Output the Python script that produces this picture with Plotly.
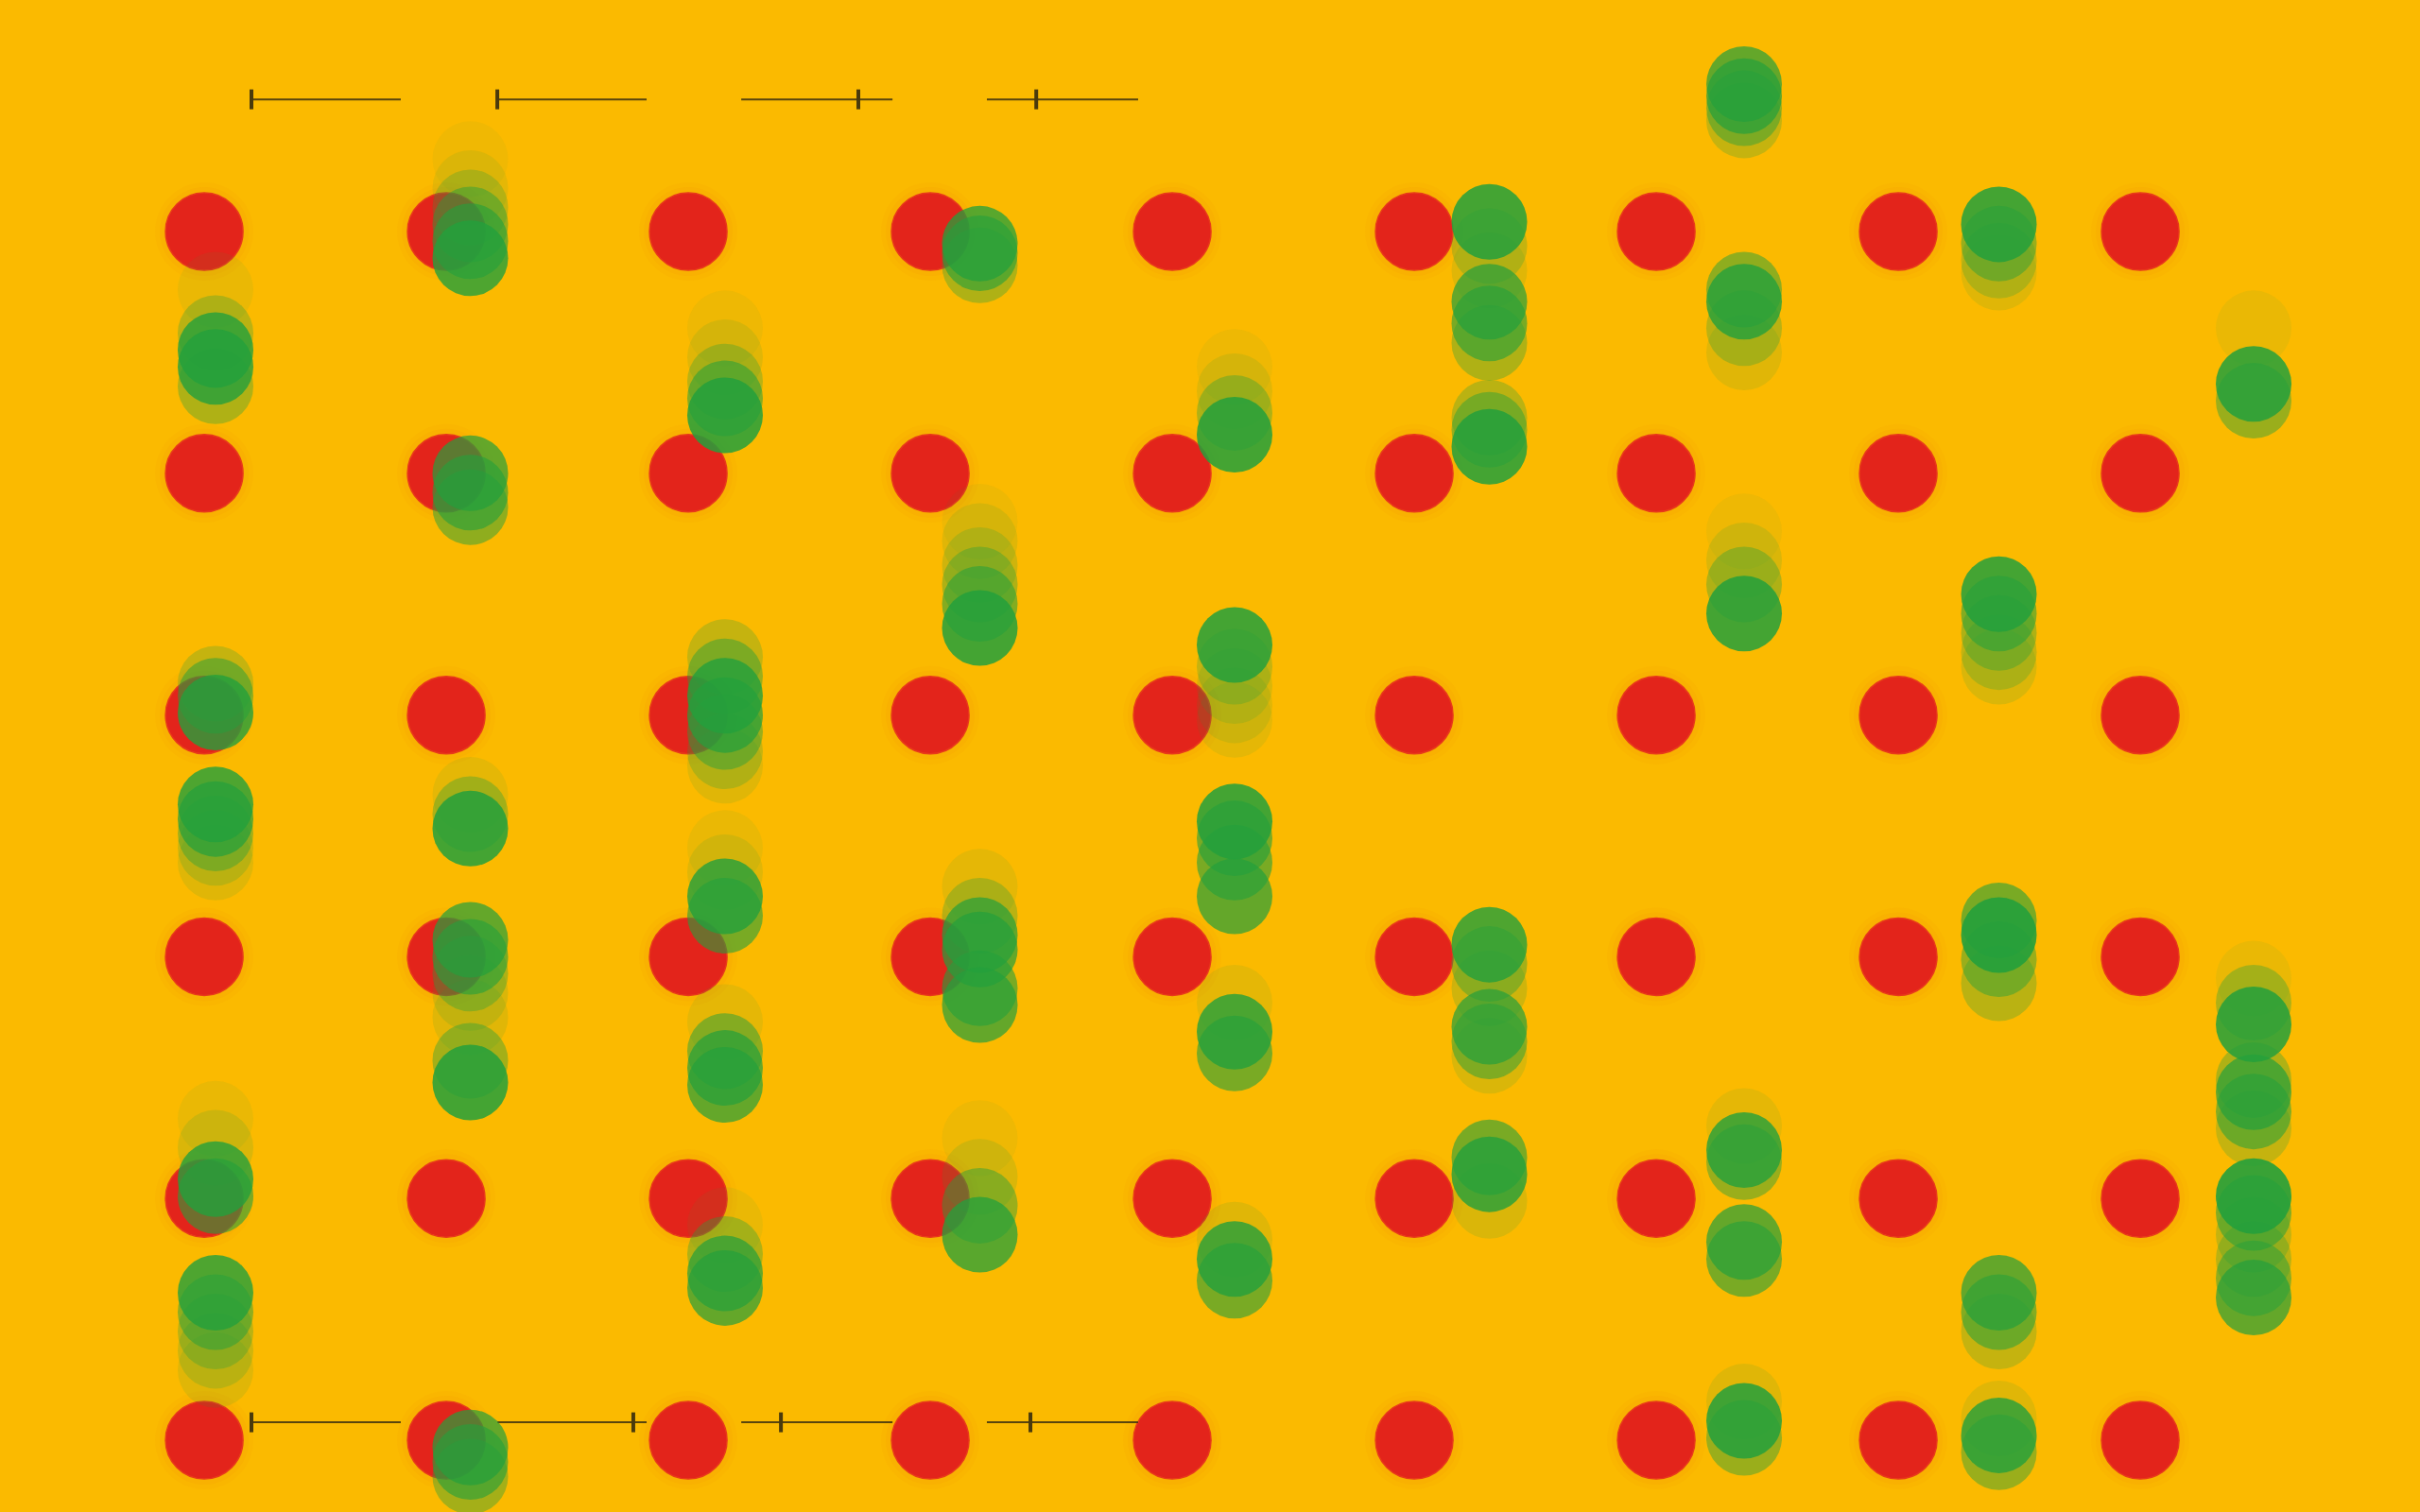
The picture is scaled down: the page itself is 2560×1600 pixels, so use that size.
import plotly.graph_objects as go

# grid of red dots: columns x rows
columns = [1, 2, 3, 4, 5, 6, 7, 8, 9]
rows = [1, 2, 3, 4, 5, 6]

# green trails, one list per column (row units), with the opacity of each copy
green_y = [
    [1.24, 1.42, 1.49, 1.56, 1.64, 2.87, 2.92, 2.99, 3.37, 3.43, 3.49, 3.55, 3.61,
     4.67, 4.79, 4.92, 4.99, 5.39, 5.47, 5.55, 5.63, 5.71],
    [0.70, 0.82, 0.90, 0.97, 1.04, 1.11, 2.00, 2.08, 2.14, 3.33, 3.41, 3.47,
     3.93, 4.00, 4.07, 4.15, 4.25, 4.43, 4.52, 6.03, 6.09, 6.15],
    [1.40, 1.52, 1.62, 1.69, 1.76, 2.76, 2.84, 2.92, 3.00, 3.07, 3.15, 3.21,
     3.55, 3.65, 3.75, 3.83, 4.27, 4.39, 4.46, 4.53, 5.11, 5.23, 5.31, 5.37],
    [1.05, 1.09, 1.14, 2.20, 2.28, 2.38, 2.46, 2.54, 2.64, 3.71, 3.83, 3.91, 3.97,
     4.13, 4.20, 4.75, 4.91, 5.03, 5.15],
    [1.56, 1.66, 1.75, 1.84, 2.71, 2.80, 2.88, 2.96, 3.02, 3.44, 3.51, 3.61, 3.75,
     4.19, 4.31, 4.40, 5.17, 5.25, 5.34],
    [0.96, 1.06, 1.16, 1.29, 1.38, 1.46, 1.77, 1.82, 1.89, 3.95, 4.03, 4.13, 4.29,
     4.35, 4.41, 4.83, 4.90, 5.01],
    [0.39, 0.44, 0.49, 0.54, 1.24, 1.29, 1.40, 1.50, 2.24, 2.36, 2.46, 2.58, 4.70,
     4.80, 4.85, 5.18, 5.25, 5.84, 5.92, 5.99],
    [0.97, 1.05, 1.12, 1.17, 2.50, 2.58, 2.66, 2.74, 2.80, 3.85, 3.91, 4.01, 4.11,
     5.39, 5.47, 5.55, 5.91, 5.98, 6.05],
    [1.40, 1.63, 1.70, 4.09, 4.19, 4.28, 4.51, 4.56, 4.64, 4.71, 4.99, 5.06, 5.15,
     5.25, 5.33, 5.41],
]
green_alpha = [
    [0.08, 0.3, 0.8, 0.8, 0.35, 0.25, 0.5, 0.8, 0.8, 0.7, 0.4, 0.2, 0.12,
     0.08, 0.15, 0.8, 0.6, 0.8, 0.5, 0.3, 0.2, 0.12],
    [0.05, 0.1, 0.25, 0.45, 0.6, 0.8, 0.7, 0.6, 0.5, 0.1, 0.35, 0.85,
     0.7, 0.6, 0.35, 0.15, 0.12, 0.4, 0.85, 0.7, 0.6, 0.4],
    [0.06, 0.12, 0.3, 0.55, 0.85, 0.25, 0.45, 0.8, 0.7, 0.45, 0.25, 0.12,
     0.08, 0.12, 0.8, 0.6, 0.1, 0.5, 0.7, 0.7, 0.08, 0.35, 0.7, 0.7],
    [0.75, 0.6, 0.35, 0.06, 0.12, 0.2, 0.35, 0.55, 0.85, 0.1, 0.3, 0.7, 0.7,
     0.6, 0.7, 0.06, 0.15, 0.45, 0.75],
    [0.06, 0.12, 0.35, 0.85, 0.85, 0.25, 0.15, 0.12, 0.1, 0.85, 0.6, 0.6, 0.7,
     0.1, 0.8, 0.6, 0.12, 0.8, 0.6],
    [0.85, 0.25, 0.12, 0.7, 0.6, 0.35, 0.3, 0.45, 0.85, 0.8, 0.4, 0.2, 0.7,
     0.5, 0.15, 0.6, 0.8, 0.15],
    [0.7, 0.7, 0.45, 0.25, 0.5, 0.8, 0.3, 0.12, 0.06, 0.15, 0.35, 0.85, 0.1,
     0.8, 0.45, 0.7, 0.6, 0.12, 0.85, 0.45],
    [0.85, 0.45, 0.25, 0.12, 0.85, 0.55, 0.35, 0.25, 0.15, 0.6, 0.9, 0.45, 0.3,
     0.7, 0.55, 0.25, 0.12, 0.8, 0.45],
    [0.08, 0.85, 0.45, 0.08, 0.35, 0.85, 0.35, 0.7, 0.55, 0.25, 0.9, 0.55, 0.25,
     0.3, 0.5, 0.7],
]

# range bars at top and bottom
bar_start = [1.195, 2.211, 3.219, 4.234]
bar_end = [1.812, 2.828, 3.844, 4.859]
top_marks = [1.195, 2.211, 3.703, 4.438]
bottom_marks = [1.195, 2.773, 3.383, 4.414]
top_level = 0.453
bottom_level = 5.926

BG = '#FBBA00'
RED = '#E3241B'

fig = go.Figure()

red_x = [c for c in columns for r in rows]
red_y = [r for c in columns for r in rows]

# soft glow behind red dots
for size, op in [(104, 0.04), (94, 0.06)]:
    fig.add_trace(go.Scatter(x=red_x, y=red_y, mode='markers',
                             marker=dict(size=size, color='rgba(240,110,10,%s)' % op, line=dict(width=0)),
                             hoverinfo='skip', showlegend=False))
fig.add_trace(go.Scatter(x=red_x, y=red_y, mode='markers',
                         marker=dict(size=82, color=RED, line=dict(width=1.5, color='#E83A1A')),
                         showlegend=False))

for i, col in enumerate(columns):
    pts = sorted(zip(green_y[i], green_alpha[i]), key=lambda p: p[1])
    fig.add_trace(go.Scatter(
        x=[col] * len(pts), y=[p[0] for p in pts], mode='markers', xaxis='x2',
        marker=dict(size=80, color=['rgba(35,160,60,%s)' % p[1] for p in pts], line=dict(width=0)),
        showlegend=False))

for level, marks in [(top_level, top_marks), (bottom_level, bottom_marks)]:
    lx, ly = [], []
    for s, e in zip(bar_start, bar_end):
        lx += [s, e, None]
        ly += [level, level, None]
    fig.add_trace(go.Scatter(x=lx, y=ly, mode='lines',
                             line=dict(color='rgba(60,48,15,0.85)', width=2),
                             hoverinfo='skip', showlegend=False))
    fig.add_trace(go.Scatter(x=marks, y=[level] * len(marks), mode='markers',
                             marker=dict(symbol='line-ns', size=15,
                                         line=dict(color='#4a3a0c', width=4)),
                             showlegend=False))

fig.update_layout(
    width=2560, height=1600,
    margin=dict(l=0, r=0, t=0, b=0),
    paper_bgcolor=BG, plot_bgcolor=BG,
    xaxis=dict(range=[0.156, 10.156], visible=False, fixedrange=True),
    xaxis2=dict(range=[0.154, 9.653], overlaying='x', visible=False, fixedrange=True),
    yaxis=dict(range=[6.297, 0.042], visible=False, fixedrange=True),
)

# drop the page's default body margin so the chart sits flush in the window
fig.write_html("out.html", config={'displayModeBar': False},
               post_script="document.body.style.margin='0';")
